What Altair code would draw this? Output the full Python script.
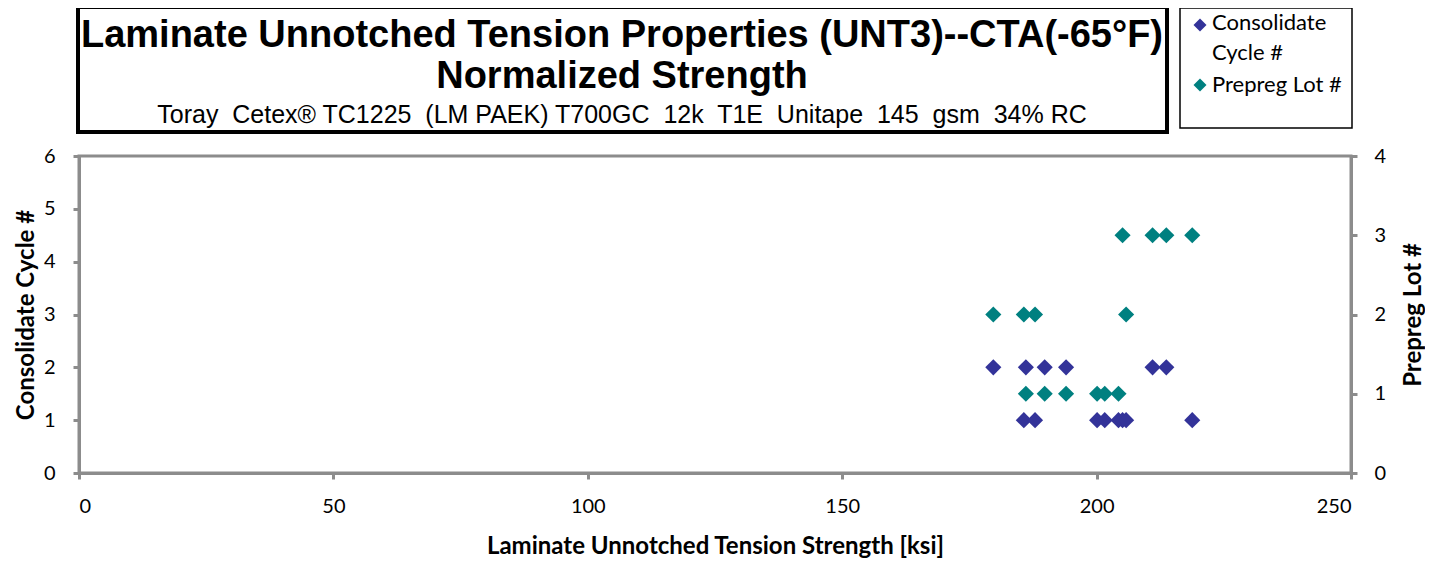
import altair as alt
import pandas as pd

strength = [179.7, 185.7, 186.1, 187.9, 189.8, 194.0, 200.1, 201.6, 204.3, 205.1, 205.8, 211.0, 213.7, 218.8]
consolidate_cycle = [2, 1, 2, 1, 2, 2, 1, 1, 1, 1, 1, 2, 2, 1]
prepreg_lot = [2, 2, 1, 2, 1, 1, 1, 1, 1, 3, 2, 3, 3, 3]

title_lines = [
    "Laminate Unnotched Tension Properties (UNT3)--CTA(-65°F)",
    "Normalized Strength",
    "Toray\u00a0 Cetex® TC1225\u00a0 (LM PAEK) T700GC\u00a0 12k\u00a0 T1E\u00a0 Unitape\u00a0 145\u00a0 gsm\u00a0 34% RC",
]
legend_labels = ["Consolidate", "Cycle #", "Prepreg Lot #"]

BLUE = "#333399"
TEAL = "#008080"
GRAY = "#8c8c8c"
FONT = "Lato"
W, H = 1272, 317

df = pd.DataFrame({"strength": strength, "cycle": consolidate_cycle, "lot": prepreg_lot})
one = pd.DataFrame({"k": [0]})

xenc = alt.X("strength:Q", scale=alt.Scale(domain=[0, 250], nice=False),
             axis=alt.Axis(values=[0, 50, 100, 150, 200, 250], title="Laminate Unnotched Tension Strength [ksi]",
                           titleY=73, titleBaseline="middle", labelPadding=17))

blue = alt.Chart(df).mark_point(shape="diamond", filled=True, size=260, color=BLUE, opacity=1).encode(
    x=xenc,
    y=alt.Y("cycle:Q", scale=alt.Scale(domain=[0, 6], nice=False),
            axis=alt.Axis(orient="left", values=[0, 1, 2, 3, 4, 5, 6], title="Consolidate Cycle #",
                          titleAngle=270, titleX=-53, titleY=H / 2, titleBaseline="middle", labelPadding=18)),
)
teal = alt.Chart(df).mark_point(shape="diamond", filled=True, size=260, color=TEAL, opacity=1).encode(
    x=alt.X("strength:Q"),
    y=alt.Y("lot:Q", scale=alt.Scale(domain=[0, 4], nice=False),
            axis=alt.Axis(orient="right", values=[0, 1, 2, 3, 4], title="Prepreg Lot #",
                          titleAngle=270, titleX=62, titleY=H / 2, titleBaseline="middle", labelPadding=17)),
)

title_box = alt.Chart(one).mark_rect(fill=None, stroke="black", strokeWidth=4).encode(
    x=alt.value(-1), x2=alt.value(1088), y=alt.value(-149), y2=alt.value(-24))
legend_box = alt.Chart(one).mark_rect(fill="white", stroke="black", strokeWidth=1.5).encode(
    x=alt.value(1101), x2=alt.value(1273), y=alt.value(-148), y2=alt.value(-28))

t1 = alt.Chart(one).mark_text(text=title_lines[0], font="Liberation Sans", fontWeight="bold", fontSize=38,
                               align="center", baseline="middle").encode(x=alt.value(543), y=alt.value(-120))
t2 = alt.Chart(one).mark_text(text=title_lines[1], font="Liberation Sans", fontWeight="bold", fontSize=38,
                               align="center", baseline="middle").encode(x=alt.value(543), y=alt.value(-79))
t3 = alt.Chart(one).mark_text(text=title_lines[2], font="Liberation Sans", fontSize=25,
                               align="center", baseline="middle").encode(x=alt.value(543), y=alt.value(-41))

leg_d1 = alt.Chart(one).mark_point(shape="diamond", filled=True, size=170, color=BLUE, opacity=1).encode(
    x=alt.value(1121), y=alt.value(-131))
leg_d2 = alt.Chart(one).mark_point(shape="diamond", filled=True, size=170, color=TEAL, opacity=1).encode(
    x=alt.value(1121), y=alt.value(-71))
lt1 = alt.Chart(one).mark_text(text=legend_labels[0], font=FONT, fontSize=22, align="left", baseline="middle").encode(
    x=alt.value(1133), y=alt.value(-133))
lt2 = alt.Chart(one).mark_text(text=legend_labels[1], font=FONT, fontSize=22, align="left", baseline="middle").encode(
    x=alt.value(1133), y=alt.value(-103))
lt3 = alt.Chart(one).mark_text(text=legend_labels[2], font=FONT, fontSize=22, align="left", baseline="middle").encode(
    x=alt.value(1133), y=alt.value(-71))

chart = alt.layer(blue, teal, title_box, legend_box, t1, t2, t3, leg_d1, leg_d2, lt1, lt2, lt3).resolve_scale(
    y="independent"
).properties(
    width=W, height=H,
    autosize=alt.AutoSizeParams(type="none"),
    padding={"left": 71, "top": 148, "right": 74, "bottom": 86},
).configure_view(stroke=GRAY, strokeWidth=3).configure_axis(
    domainColor=GRAY, domainWidth=3, tickColor=GRAY, tickWidth=3, tickSize=6, grid=False,
    labelFont=FONT, labelFontSize=20, labelColor="black",
    titleFont=FONT, titleFontSize=24, titleFontWeight="bold", titleColor="black",
)

chart.save("out.html", embed_options={"renderer": "svg", "actions": False})
